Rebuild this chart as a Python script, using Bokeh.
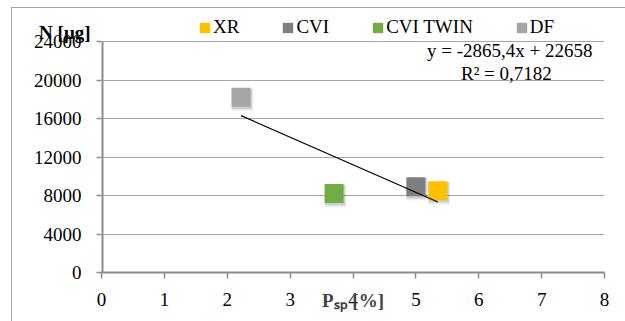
from bokeh.plotting import figure
from bokeh.models import Legend, LegendItem, Label, Range1d, FixedTicker, LinearAxis
from bokeh.transform import dodge
from bokeh.embed import file_html
from bokeh.resources import INLINE

series = ["XR", "CVI", "CVI TWIN", "DF"]
psp = [5.35, 5.0, 3.7, 2.22]
n_ug = [8500, 8900, 8200, 18200]
colors = ["#FFC000", "#7F7F7F", "#70AD47", "#A5A5A5"]
trend_coef = [-2865.4, 22658]
x_ticks = [0, 1, 2, 3, 4, 5, 6, 7, 8]
y_ticks = [0, 4000, 8000, 12000, 16000, 20000, 24000]
eq_text = "y = -2865,4x + 22658"
r2_text = "R\u00b2 = 0,7182"
y_title = "N [\u03bcg]"
x_title = "P\u209b\u209a [%]"

FONT = "Liberation Serif"
FS = "19px"
AXIS_C = "#8c8c8c"

# frame: x 101..604, y 8..272 ; value 24000 sits at y=41
FRAME_TOP, AXIS_TOP, FRAME_BOTTOM = 8, 41, 272
y_end = max(y_ticks) * (FRAME_BOTTOM - FRAME_TOP) / (FRAME_BOTTOM - AXIS_TOP)

p = figure(width=625, height=321, output_backend="svg", toolbar_location=None,
           x_range=Range1d(0, 8), y_range=Range1d(0, y_end),
           min_border_left=101, min_border_right=21, min_border_top=FRAME_TOP, min_border_bottom=49)
p.outline_line_color = None
p.background_fill_color = "white"
p.border_fill_alpha = 0
p.stylesheets = [":host { box-shadow: inset 11px 7px 0 0 white, inset 12px 8px 0 0 #a6a6a6; }"]

# axes
for ax in (p.xaxis[0], p.yaxis[0]):
    ax.axis_line_color = AXIS_C
    ax.axis_line_width = 2
    ax.major_tick_line_color = AXIS_C
    ax.major_tick_line_width = 1.5
    ax.minor_tick_line_color = None
    ax.major_tick_in = 0
    ax.major_label_text_font = FONT
    ax.major_label_text_font_size = FS
    ax.major_label_text_color = "black"
p.yaxis.axis_line_color = None
p.xaxis.ticker = FixedTicker(ticks=x_ticks)
p.yaxis.ticker = FixedTicker(ticks=y_ticks)
p.xaxis.major_tick_out = 6
p.yaxis.major_tick_out = 5
p.xaxis.major_label_standoff = 14
p.yaxis.major_label_standoff = 15
p.xaxis.axis_label = x_title
p.xaxis.axis_label_text_font = FONT
p.xaxis.axis_label_text_font_size = FS
p.xaxis.axis_label_text_font_style = "bold"
p.xaxis.axis_label_standoff = -19
p.xgrid.visible = False
p.ygrid.ticker = FixedTicker(ticks=y_ticks)
p.ygrid.grid_line_color = "#a6a6a6"
p.ygrid.grid_line_width = 1.2

# y axis line only up to the last tick
p.segment(x0=[0], y0=[min(y_ticks)], x1=[0], y1=[max(y_ticks)], line_color=AXIS_C, line_width=4)

# y title as the single label of an extra, line-less axis
title_pos = 24935
yt = LinearAxis(ticker=FixedTicker(ticks=[title_pos]), major_label_overrides={title_pos: y_title},
                axis_line_color=None, major_tick_line_color=None, minor_tick_line_color=None,
                major_tick_out=0, major_tick_in=0, major_label_standoff=-60,
                major_label_text_font=FONT, major_label_text_font_size=FS,
                major_label_text_font_style="bold", major_label_text_color="black")
p.add_layout(yt, "left")

# soft shadows
src = dict(x=psp, y=n_ug)
p.scatter(x=dodge("x", 0.02), y=dodge("y", -260), source=src, marker="square", size=22,
          fill_color="black", fill_alpha=0.08, line_color=None)
p.scatter(x=dodge("x", 0.015), y=dodge("y", -180), source=src, marker="square", size=20,
          fill_color="black", fill_alpha=0.12, line_color=None)
# markers
p.scatter(x=psp, y=n_ug, marker="square", size=19, fill_color=colors, line_color=None)

# trend line
x0, x1 = min(psp), max(psp)
p.line(x=[x0, x1], y=[trend_coef[0] * x0 + trend_coef[1], trend_coef[0] * x1 + trend_coef[1]],
       line_color="black", line_width=1.2)

# equation
p.add_layout(Label(x=7.81, y=23065, text=eq_text, text_align="right", text_baseline="middle",
                   text_font=FONT, text_font_size=FS, text_color="black"))
p.add_layout(Label(x=6.44, y=20700, text=r2_text, text_align="center", text_baseline="middle",
                   text_font=FONT, text_font_size=FS, text_color="black"))

# series legend: zero-size rects (one per series) supply the legend swatches
items = []
for xv, yv, name, c in zip(psp, n_ug, series, colors):
    r = p.rect(x=[xv], y=[yv], width=[0], height=[0], fill_color=c, line_color=None)
    items.append(LegendItem(label=name, renderers=[r]))
legend = Legend(items=items, orientation="horizontal", location=(97, 234),
                glyph_width=13, glyph_height=13, label_standoff=2, spacing=42,
                padding=0, margin=0, label_height=20,
                label_text_font=FONT, label_text_font_size=FS, label_text_color="black",
                border_line_color=None, background_fill_alpha=0)
p.add_layout(legend)

open("out.html", "w").write(file_html(p, INLINE))
